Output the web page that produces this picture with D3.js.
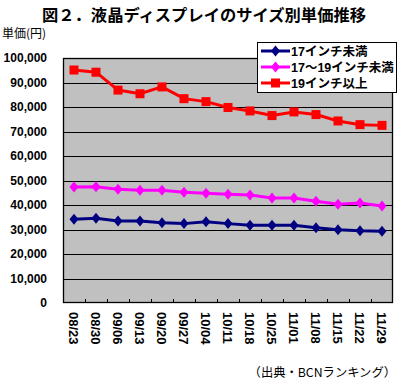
<!DOCTYPE html>
<html><head><meta charset="utf-8">
<script src="https://cdn.jsdelivr.net/npm/d3@7"></script>
<style>body{margin:0;background:#fff}svg{display:block}</style>
</head><body><svg id="c" width="401" height="380"></svg>
<script>
const categories = ["08/23","08/30","09/06","09/13","09/20","09/27","10/04","10/11","10/18","10/25","11/01","11/08","11/15","11/22","11/29"];
const under17   = [34200,34600,33500,33500,32800,32400,33200,32400,31700,31700,31700,30700,29900,29500,29300];
const mid17to19 = [47300,47400,46400,46000,46000,45200,44800,44400,44100,42900,42900,41500,40300,40800,39600];
const over19    = [95100,94200,86900,85400,88200,83400,82200,79800,78400,76500,78000,76900,74300,72800,72500];
const seriesNames = ["17インチ未満","17～19インチ未満","19インチ以上"];
const seriesColors = ["#000080","#FF00FF","#FF0000"];
const seriesMarkers = ["diamond","diamond","square"];
const yTicks = [0,10000,20000,30000,40000,50000,60000,70000,80000,90000,100000];

const svg = d3.select("#c");
const font = "'Liberation Sans','Noto Sans CJK JP',sans-serif";
const L = 63, R = 393, T = 58, B = 303;

const x = d3.scaleBand().domain(categories).range([L, R]);
const y = d3.scaleLinear().domain([0, 100000]).range([B, T]);
const cx = c => x(c) + x.bandwidth() / 2;

// title
svg.append("text").attr("x", 204).attr("y", 21).attr("text-anchor", "middle")
  .attr("font-family", "'Noto Sans CJK JP',sans-serif").attr("font-weight", "bold")
  .attr("font-size", 16.3).text("図２．液晶ディスプレイのサイズ別単価推移");

svg.append("text").attr("x", 2).attr("y", 38)
  .attr("font-family", "'Noto Sans CJK JP',sans-serif").attr("font-size", 12)
  .text("単価(円)");

// plot bg
svg.append("rect").attr("x", L).attr("y", T).attr("width", R - L).attr("height", B - T)
  .attr("fill", "#C0C0C0");

// grid
svg.append("g").selectAll("line").data(yTicks.filter(d => d > 0 && d < 100000)).join("line")
  .attr("x1", L).attr("x2", R).attr("y1", d => Math.round(y(d)) + 0.5).attr("y2", d => Math.round(y(d)) + 0.5)
  .attr("stroke", "#000").attr("stroke-width", 1);

// border
svg.append("rect").attr("x", L + 0.5).attr("y", T + 0.5).attr("width", R - L - 1).attr("height", B - T - 1)
  .attr("fill", "none").attr("stroke", "#000").attr("stroke-width", 1.3);

// y axis labels
const yAxis = d3.axisLeft(y).tickValues(yTicks).tickSize(0).tickPadding(16).tickFormat(d3.format(","));
const gy = svg.append("g").attr("transform", `translate(${L},0)`).call(yAxis);
gy.select(".domain").remove();
gy.selectAll("text").attr("font-family", font).attr("font-weight", "bold").attr("font-size", 12).attr("fill", "#000");

// x ticks at band boundaries
svg.append("g").selectAll("line").data(categories.slice(1)).join("line")
  .attr("x1", d => Math.round(x(d)) + 0.5).attr("x2", d => Math.round(x(d)) + 0.5)
  .attr("y1", B).attr("y2", B - 4).attr("stroke", "#000");

// x labels
const gx = svg.append("g").attr("transform", `translate(0,${B})`)
  .call(d3.axisBottom(x).tickSize(0).tickPadding(0));
gx.select(".domain").remove();
gx.selectAll("text")
  .attr("font-family", font).attr("font-weight", "bold").attr("font-size", 13).attr("fill", "#000")
  .attr("text-anchor", "start").attr("dy", "0.35em").attr("y", 0)
  .attr("transform", "translate(0,9) rotate(90)");

// series
const allSeries = [under17, mid17to19, over19];
const line = d3.line().x((d, i) => cx(categories[i])).y(d => y(d));
function marker(g, type, color, px, py) {
  if (type === "square") {
    g.append("rect").attr("x", px - 4.5).attr("y", py - 4.5).attr("width", 9).attr("height", 9).attr("fill", color);
  } else {
    g.append("path").attr("d", `M${px},${py - 5.5}L${px + 4.5},${py}L${px},${py + 5.5}L${px - 4.5},${py}Z`).attr("fill", color);
  }
}
allSeries.forEach((vals, k) => {
  const g = svg.append("g");
  g.append("path").datum(vals).attr("d", line).attr("fill", "none")
    .attr("stroke", seriesColors[k]).attr("stroke-width", 3);
  vals.forEach((v, i) => marker(g, seriesMarkers[k], seriesColors[k], cx(categories[i]), y(v)));
});

// legend
const lg = svg.append("g");
lg.append("rect").attr("x", 257.5).attr("y", 42.5).attr("width", 139).attr("height", 50)
  .attr("fill", "#fff").attr("stroke", "#000").attr("stroke-width", 1);
seriesNames.forEach((name, k) => {
  const ry = 51 + k * 16;
  lg.append("line").attr("x1", 261).attr("x2", 290).attr("y1", ry).attr("y2", ry)
    .attr("stroke", seriesColors[k]).attr("stroke-width", 3);
  marker(lg, seriesMarkers[k], seriesColors[k], 275.5, ry);
  lg.append("text").attr("x", 291).attr("y", ry + 5)
    .attr("font-family", font).attr("font-weight", "bold").attr("font-size", 12.5).text(name);
});

// source
svg.append("text").attr("x", 396).attr("y", 377).attr("text-anchor", "end")
  .attr("font-family", "'Noto Sans CJK JP',sans-serif").attr("font-size", 12.3)
  .text("（出典・BCNランキング）");
</script></body></html>
